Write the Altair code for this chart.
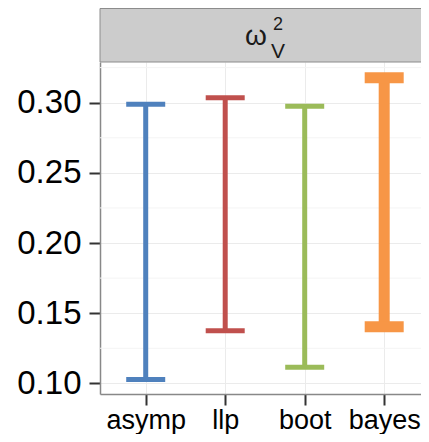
import altair as alt
import pandas as pd

# ---- data ----
methods = ["asymp", "llp", "boot", "bayes"]
lower = [0.1027, 0.1374, 0.1114, 0.1403]
upper = [0.2989, 0.3035, 0.2975, 0.3177]
y_ticks = [0.10, 0.15, 0.20, 0.25, 0.30]
y_minor = [0.125, 0.175, 0.225, 0.275, 0.325]
thick_methods = ["bayes"]

# ---- styles ----
colors = ["#4F81BD", "#C0504D", "#9BBB59", "#F79646"]
FONT = "Liberation Sans"
W, H = 321, 332
STRIP = 54
PAD_L, PAD_B = 92, 40

df = pd.DataFrame({"method": methods, "lo": lower, "hi": upper})
minor_df = pd.DataFrame({"v": y_minor})

xs = alt.Scale(type="point", domain=methods, padding=0.519, align=0.554)
ys = alt.Scale(domain=[0.0924, 0.329], nice=False, zero=False)
col = alt.Color("method:N", scale=alt.Scale(domain=methods, range=colors), legend=None)

x_enc = alt.X("method:N", scale=xs, sort=methods, title=None,
              axis=alt.Axis(labelAngle=0, labelFontSize=27, labelFont=FONT, labelColor="black",
                            tickSize=11, tickWidth=2, tickColor="#333333", labelPadding=2,
                            domainColor="#888888", domainWidth=1.5,
                            grid=True, gridColor="#EBEBEB", gridWidth=1))
y_enc = alt.Y("lo:Q", scale=ys, title=None,
              axis=alt.Axis(values=y_ticks, format=".2f", labelFontSize=33, labelFont=FONT,
                            labelColor="black", tickSize=11, tickWidth=2, tickColor="#333333",
                            labelPadding=8, domainColor="#888888", domainWidth=1.5,
                            grid=True, gridColor="#EBEBEB", gridWidth=1))

minor = alt.Chart(minor_df).mark_rule(color="#F4F4F4", strokeWidth=1).encode(
    y=alt.Y("v:Q", scale=ys),
    x=alt.value(0), x2=alt.value(W))

base = alt.Chart(df)
is_thick = alt.FieldOneOfPredicate(field="method", oneOf=thick_methods)
not_thick = {"not": {"field": "method", "oneOf": thick_methods}}

def group(filt, lw, first=False):
    b = base.transform_filter(filt)
    r = b.mark_rule(strokeWidth=lw, opacity=1, strokeCap="butt").encode(
        x=x_enc if first else alt.X("method:N", scale=xs, sort=methods),
        y=y_enc if first else alt.Y("lo:Q", scale=ys),
        y2="hi:Q", color=col)
    lo = b.mark_tick(thickness=lw, size=39, opacity=1).encode(
        x=alt.X("method:N", scale=xs, sort=methods),
        y=alt.Y("lo:Q", scale=ys), color=col)
    hi = b.mark_tick(thickness=lw, size=39, opacity=1).encode(
        x=alt.X("method:N", scale=xs, sort=methods),
        y=alt.Y("hi:Q", scale=ys), color=col)
    return [r, lo, hi]

layers = group(not_thick, 5, first=True) + group(is_thick, 11)

strip = alt.Chart(pd.DataFrame({"a": [0]})).mark_rect(
    fill="#CCCCCC", stroke="#8C8C8C", strokeWidth=1).encode(
    x=alt.value(0), x2=alt.value(W + 6), y=alt.value(-STRIP + 0.5), y2=alt.value(0))

omega = alt.Chart(pd.DataFrame({"t": ["ω"]})).mark_text(
    font=FONT, fontSize=28, color="#1a1a1a", baseline="alphabetic", align="center").encode(
    text="t:N", x=alt.value(156), y=alt.value(-17))
sup = alt.Chart(pd.DataFrame({"t": ["2"]})).mark_text(
    font=FONT, fontSize=18, color="#1a1a1a", baseline="alphabetic", align="center").encode(
    text="t:N", x=alt.value(178), y=alt.value(-32))
sub = alt.Chart(pd.DataFrame({"t": ["V"]})).mark_text(
    font=FONT, fontSize=21, color="#1a1a1a", baseline="alphabetic", align="center").encode(
    text="t:N", x=alt.value(178), y=alt.value(-4))

chart = alt.layer(minor, *layers, strip, omega, sup, sub).properties(
    width=W, height=H,
    autosize=alt.AutoSizeParams(type="none"),
    padding={"left": PAD_L, "top": STRIP, "right": 0, "bottom": PAD_B},
).configure_view(stroke=None)

chart.save("out.html", embed_options={"renderer": "svg", "actions": False})
